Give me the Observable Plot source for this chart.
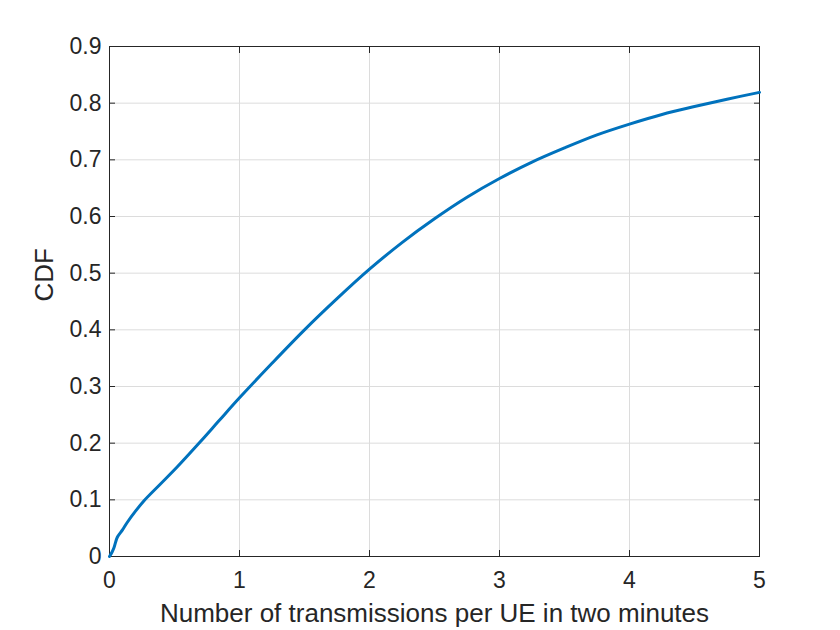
<!DOCTYPE html>
<html>
<head>
<meta charset="utf-8">
<script src="https://cdn.jsdelivr.net/npm/d3@7"></script>
<script src="https://cdn.jsdelivr.net/npm/@observablehq/plot@0.6"></script>
<style>
  html, body { margin: 0; padding: 0; background: #fff; }
  #chart svg { display: block; }
</style>
</head>
<body>
<div id="chart"></div>
<script>
const transmissions = [0, 0.02, 0.035, 0.06, 0.1, 0.136, 0.2, 0.264, 0.392, 0.52, 0.7, 0.84, 1.0, 1.25, 1.5, 1.75, 2.0, 2.25, 2.5, 2.75, 3.0, 3.25, 3.5, 3.75, 4.0, 4.25, 4.5, 4.75, 5.0];
const cdfValues = [0, 0.008, 0.016, 0.034, 0.047, 0.06, 0.08, 0.098, 0.128, 0.158, 0.203, 0.239, 0.28, 0.341, 0.400, 0.455, 0.507, 0.554, 0.596, 0.634, 0.667, 0.696, 0.721, 0.744, 0.763, 0.780, 0.794, 0.807, 0.819];
const xTicks = [0, 1, 2, 3, 4, 5];
const yTicks = [0, 0.1, 0.2, 0.3, 0.4, 0.5, 0.6, 0.7, 0.8, 0.9];
const xLabel = "Number of transmissions per UE in two minutes";
const yLabel = "CDF";

const data = transmissions.map((x, i) => ({x, y: cdfValues[i]}));
const axisColor = "#262626";
const gridColor = "#dcdcdc";

const chart = Plot.plot({
  width: 840,
  height: 630,
  marginLeft: 109,
  marginRight: 81,
  marginTop: 46,
  marginBottom: 74,
  style: {fontFamily: "'Liberation Sans', Arial, sans-serif", fontSize: "22px", color: axisColor, background: "#fff"},
  x: {domain: [0, 5]},
  y: {domain: [0, 0.9]},
  marks: [
    Plot.gridX(xTicks, {stroke: gridColor, strokeOpacity: 1}),
    Plot.gridY(yTicks, {stroke: gridColor, strokeOpacity: 1}),
    Plot.axisX(xTicks, {anchor: "bottom", tickSize: -6, tickPadding: 21, stroke: axisColor, fill: axisColor, fontSize: 23, tickFormat: d => String(d), label: null}),
    Plot.axisX(xTicks, {anchor: "top", tickSize: -6, stroke: axisColor, tickFormat: () => "", label: null}),
    Plot.axisY(yTicks, {anchor: "left", tickSize: -6, tickPadding: 14, stroke: axisColor, fill: axisColor, fontSize: 23, tickFormat: d => d === 0 ? "0" : d.toFixed(1), label: null}),
    Plot.axisY(yTicks, {anchor: "right", tickSize: -6, stroke: axisColor, tickFormat: () => "", label: null}),
    Plot.frame({stroke: axisColor, strokeWidth: 1}),
    Plot.line(data, {x: "x", y: "y", stroke: "#0072BD", strokeWidth: 3, curve: "catmull-rom"}),
    Plot.text([xLabel], {frameAnchor: "bottom", dy: 65, fontSize: 26, fill: axisColor}),
    Plot.text([yLabel], {frameAnchor: "left", dx: -65, rotate: -90, fontSize: 26, fill: axisColor})
  ]
});
document.getElementById("chart").appendChild(chart);
</script>
</body>
</html>
